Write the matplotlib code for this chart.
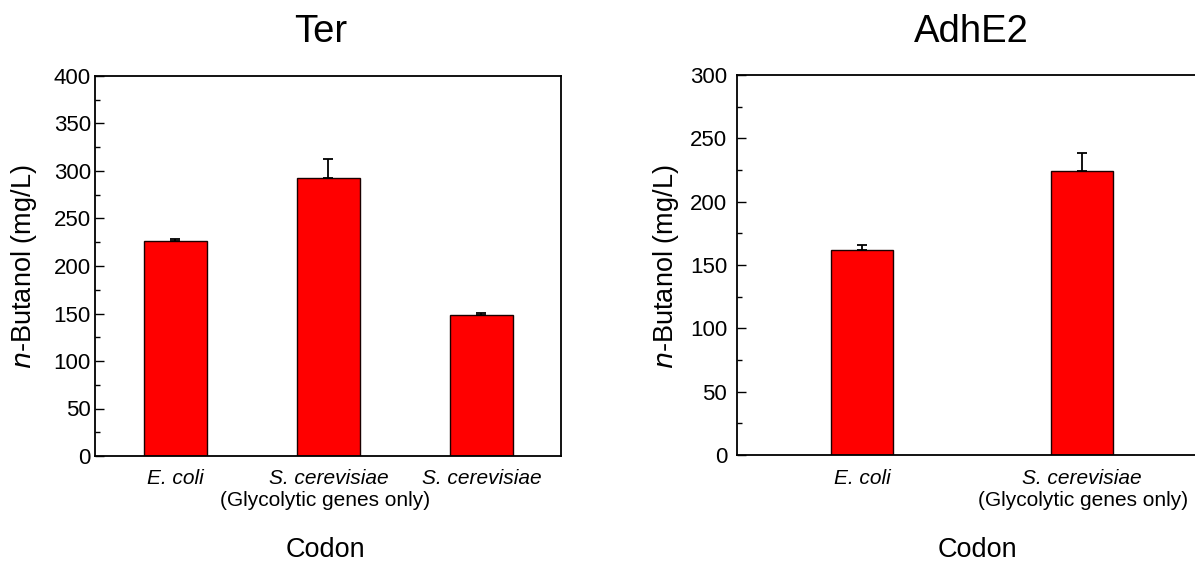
import matplotlib
matplotlib.use("Agg")
import matplotlib.pyplot as plt
from matplotlib.ticker import MultipleLocator
from matplotlib.transforms import blended_transform_factory

plt.rcParams['font.family'] = ['Liberation Sans', 'DejaVu Sans']

# Ter panel
ter_species = ["E. coli", "S. cerevisiae", "S. cerevisiae"]
ter_notes = ["", "(Glycolytic genes only)", ""]
ter_values = [226, 293, 148]
ter_errors = [2, 20, 2.5]

# AdhE2 panel
adh_species = ["E. coli", "S. cerevisiae"]
adh_notes = ["", "(Glycolytic genes only)"]
adh_values = [161.5, 224.5]
adh_errors = [4.5, 14]

W, H = 1195, 565
fig = plt.figure(figsize=(W / 100, H / 100), dpi=100)


def px_axes(left, right, top, bottom):
    return fig.add_axes([left / W, (H - bottom) / H, (right - left) / W, (bottom - top) / H])


def draw_panel(ax, species, notes, values, errors, ymax, major, minor, xlim, width,
               label_pad, note_shift):
    x = list(range(len(values)))
    ax.bar(x, values, width=width, color="#ff0000", edgecolor="#1a0000", linewidth=1.0, zorder=2)
    ax.errorbar(x, values, yerr=[[0] * len(errors), errors], fmt="none", ecolor="black",
                elinewidth=1.3, capsize=3.3, capthick=1.3, zorder=3)
    ax.set_xlim(*xlim)
    ax.set_ylim(0, ymax)
    ax.yaxis.set_major_locator(MultipleLocator(major))
    ax.yaxis.set_minor_locator(MultipleLocator(minor))
    ax.tick_params(axis="y", which="major", direction="in", length=6.5, width=1.0,
                   labelsize=16, pad=label_pad, right=False)
    ax.tick_params(axis="y", which="minor", direction="in", length=3.7, width=1.0, right=False)
    ax.set_xticks([])
    for s in ax.spines.values():
        s.set_linewidth(1.3)
    tr = blended_transform_factory(ax.transData, fig.transFigure)
    for xi, sp, nt in zip(x, species, notes):
        ax.text(xi, (H - 479) / H, sp, transform=tr, ha="center", va="center",
                fontsize=15, style="italic")
        if nt:
            ax.text(xi + note_shift, (H - 500) / H, nt, transform=tr, ha="center",
                    va="center", fontsize=15)


ax1 = px_axes(95, 561, 76, 456)
draw_panel(ax1, ter_species, ter_notes, ter_values, ter_errors, 400, 50, 25,
           (-0.526, 2.52), 0.41, 3, -0.025)

ax2 = px_axes(737, 1207, 75, 455)
draw_panel(ax2, adh_species, adh_notes, adh_values, adh_errors, 300, 50, 25,
           (-0.57, 1.57), 0.28, 7, 0.007)

# Titles, axis labels
fig.text(321 / W, 1 - 32 / H, "Ter", ha="center", va="center", fontsize=27.5)
fig.text(971 / W, 1 - 32 / H, "AdhE2", ha="center", va="center", fontsize=27.5)
fig.text(325 / W, 1 - 550 / H, "Codon", ha="center", va="center", fontsize=19.5)
fig.text(977 / W, 1 - 550 / H, "Codon", ha="center", va="center", fontsize=19.5)
fig.text(24 / W, 1 - 267 / H, r"$\it{n}$-Butanol (mg/L)", rotation=90,
         ha="center", va="center", fontsize=19.5)
fig.text(666 / W, 1 - 267 / H, r"$\it{n}$-Butanol (mg/L)", rotation=90,
         ha="center", va="center", fontsize=19.5)

fig.savefig("out.png", dpi=100)
